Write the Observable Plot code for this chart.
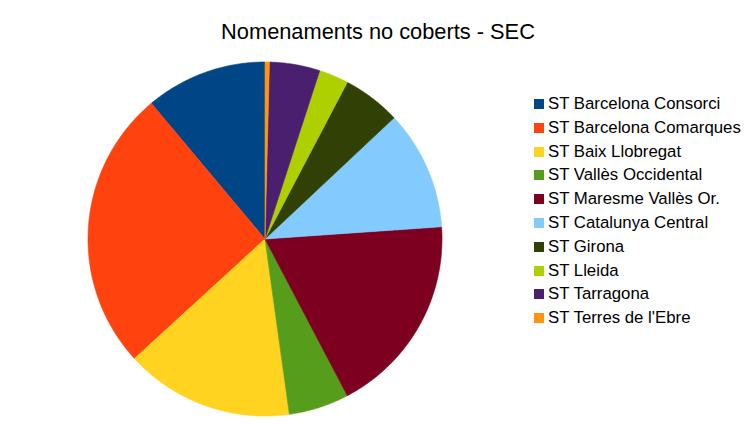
<!DOCTYPE html>
<html>
<head>
<meta charset="utf-8">
<script src="https://cdn.jsdelivr.net/npm/d3@7"></script>
<script src="https://cdn.jsdelivr.net/npm/@observablehq/plot@0.6"></script>
<style>
  html, body { margin: 0; padding: 0; background: #fff; }
  #wrap { position: relative; width: 756px; height: 425px; overflow: hidden; font-family: "Liberation Sans", Arial, sans-serif; }
  #title { position: absolute; top: 21px; left: 0; width: 756px; text-align: center; font-size: 21.8px; line-height: 1; color: #000; }
  #chart { position: absolute; top: 50px; left: 0; }
  #legend { position: absolute; left: 0; top: 0; }
  .row { position: absolute; left: 534px; height: 12px; white-space: nowrap; }
  .sw { position: absolute; left: 0; top: 0; width: 10px; height: 10px; }
  .lab { position: absolute; left: 14px; top: -3px; font-size: 16.8px; line-height: 1; color: #000; }
</style>
</head>
<body>
<div id="wrap">
  <div id="title">Nomenaments no coberts - SEC</div>
  <div id="chart"></div>
  <div id="legend"></div>
</div>
<script>
const categories = [
  "ST Barcelona Consorci",
  "ST Barcelona Comarques",
  "ST Baix Llobregat",
  "ST Vallès Occidental",
  "ST Maresme Vallès Or.",
  "ST Catalunya Central",
  "ST Girona",
  "ST Lleida",
  "ST Tarragona",
  "ST Terres de l'Ebre"
];
const values = [11.1, 25.7, 15.4, 5.5, 18.4, 10.9, 5.3, 2.7, 4.6, 0.4];
const colors = ["#004586", "#ff420e", "#ffd320", "#579d1c", "#7e0021", "#83caff", "#314004", "#aecf00", "#4b1f6f", "#ff950e"];

const data = categories.map((name, i) => ({name, value: values[i]}));

// counter-clockwise from 12 o'clock, in data order
const arcs = d3.pie().sort(null).value(d => d.value).startAngle(0).endAngle(-2 * Math.PI)(data);

const pts = [];
for (const a of arcs) {
  const name = a.data.name;
  pts.push({name, x: 0, y: 0});
  const n = Math.max(2, Math.ceil(Math.abs(a.endAngle - a.startAngle) / (Math.PI / 360)));
  for (let k = 0; k <= n; k++) {
    const t = a.startAngle + (a.endAngle - a.startAngle) * k / n;
    pts.push({name, x: Math.sin(t), y: Math.cos(t)});
  }
  pts.push({name, x: 0, y: 0});
}

const W = 756, H = 375;
const cx = 264.5, cy = 188.5, R = 177;

const plot = Plot.plot({
  width: W,
  height: H,
  margin: 0,
  style: {background: "white", overflow: "visible"},
  x: {domain: [-1, 1], range: [cx - R, cx + R], axis: null},
  y: {domain: [-1, 1], range: [cy + R, cy - R], axis: null},
  color: {domain: categories, range: colors},
  marks: [
    Plot.line(pts, {x: "x", y: "y", z: "name", fill: "name", stroke: "name", strokeWidth: 0.6, curve: "linear-closed"})
  ]
});
document.getElementById("chart").appendChild(plot);

const color = plot.scale("color");
const legend = document.getElementById("legend");
categories.forEach((c, i) => {
  const row = document.createElement("div");
  row.className = "row";
  row.style.top = (99 + i * 23.8) + "px";
  const sw = document.createElement("div");
  sw.className = "sw";
  sw.style.background = colors[color.domain.indexOf(c)];
  const lab = document.createElement("div");
  lab.className = "lab";
  lab.textContent = c;
  row.appendChild(sw);
  row.appendChild(lab);
  legend.appendChild(row);
});
</script>
</body>
</html>
